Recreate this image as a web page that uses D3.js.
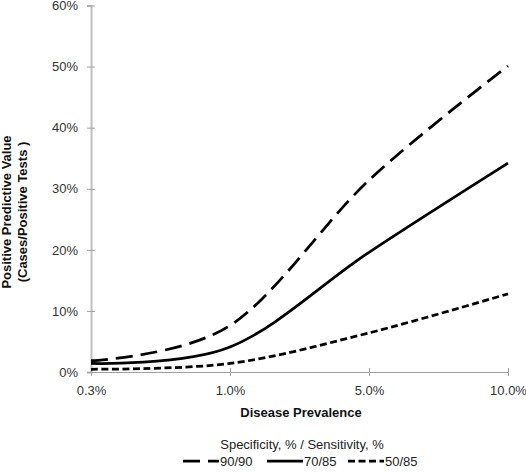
<!DOCTYPE html>
<html><head><meta charset="utf-8">
<script src="https://cdn.jsdelivr.net/npm/d3@7"></script>
<style>body{margin:0;background:#fff;} text{font-family:"Liberation Sans",Arial,sans-serif;}</style>
</head><body>
<svg id="c" width="526" height="475"></svg>
<script>
const categories = ["0.3%", "1.0%", "5.0%", "10.0%"];
const seriesNames = ["90/90", "70/85", "50/85"];
const values9090 = [1.85, 7.6, 31.4, 50.1];
const values7085 = [1.4, 4.1, 19.6, 34.2];
const values5085 = [0.45, 1.4, 6.4, 12.8];
const yTicks = [0, 10, 20, 30, 40, 50, 60];

const series = [
  {name: seriesNames[0], values: values9090, dash: "17,8"},
  {name: seriesNames[1], values: values7085, dash: null},
  {name: seriesNames[2], values: values5085, dash: "7,3.5"}
];

const svg = d3.select("#c");
const x = d3.scalePoint().domain(categories).range([91, 508]);
const y = d3.scaleLinear().domain([0, 60]).range([372, 5.5]);

// Y axis
const yAxis = svg.append("g").attr("transform", "translate(91,0)")
  .call(d3.axisLeft(y).tickValues(yTicks).tickFormat(d => d + "%").tickSize(4).tickPadding(9));
yAxis.select(".domain").attr("stroke", "#c0c0c0").attr("stroke-width", 2);
yAxis.selectAll(".tick line").attr("stroke", "#a0a0a0").attr("x2", 4).attr("x1", -4);
yAxis.selectAll(".tick text").attr("font-size", 13).attr("fill", "#333").attr("font-family", "Liberation Sans, Arial, sans-serif");

// X axis
const xAxis = svg.append("g").attr("transform", "translate(0,372)")
  .call(d3.axisBottom(x).tickSize(4).tickPadding(10));
xAxis.select(".domain").attr("stroke", "#a0a0a0").attr("stroke-width", 1);
xAxis.selectAll(".tick line").attr("stroke", "#a0a0a0").attr("y1", -4).attr("y2", 4);
xAxis.selectAll(".tick text").attr("font-size", 13).attr("fill", "#333").attr("font-family", "Liberation Sans, Arial, sans-serif");

// lines
const line = d3.line().x((d, i) => x(categories[i])).y(d => y(d)).curve(d3.curveCardinal.tension(0));
series.forEach(s => {
  svg.append("path").datum(s.values).attr("d", line)
    .attr("fill", "none").attr("stroke", "#000").attr("stroke-width", 2.75)
    .attr("stroke-dasharray", s.dash);
});

// titles
svg.append("text").attr("x", 301).attr("y", 417).attr("text-anchor", "middle")
  .attr("font-size", 13).attr("font-weight", "bold").attr("fill", "#111").text("Disease Prevalence");
const yt = svg.append("text").attr("transform", "translate(11,212) rotate(-90)")
  .attr("text-anchor", "middle").attr("font-size", 13).attr("font-weight", "bold").attr("fill", "#111");
yt.append("tspan").attr("x", 0).attr("y", 0).text("Positive Predictive Value");
yt.append("tspan").attr("x", 0).attr("y", 16).text("(Cases/Positive Tests )");

// legend
svg.append("text").attr("x", 302).attr("y", 449).attr("text-anchor", "middle")
  .attr("font-size", 13).attr("fill", "#222").text("Specificity, % / Sensitivity, %");
const legendX = [183, 267, 348];
series.forEach((s, i) => {
  const g = svg.append("g").attr("transform", `translate(${legendX[i]},466)`);
  g.append("line").attr("x1", 0).attr("x2", 36).attr("y1", -5).attr("y2", -5)
    .attr("stroke", "#000").attr("stroke-width", 2.75).attr("stroke-dasharray", s.dash);
  g.append("text").attr("x", 37).attr("y", 0).attr("font-size", 13).attr("fill", "#222").text(s.name);
});
</script>
</body></html>
